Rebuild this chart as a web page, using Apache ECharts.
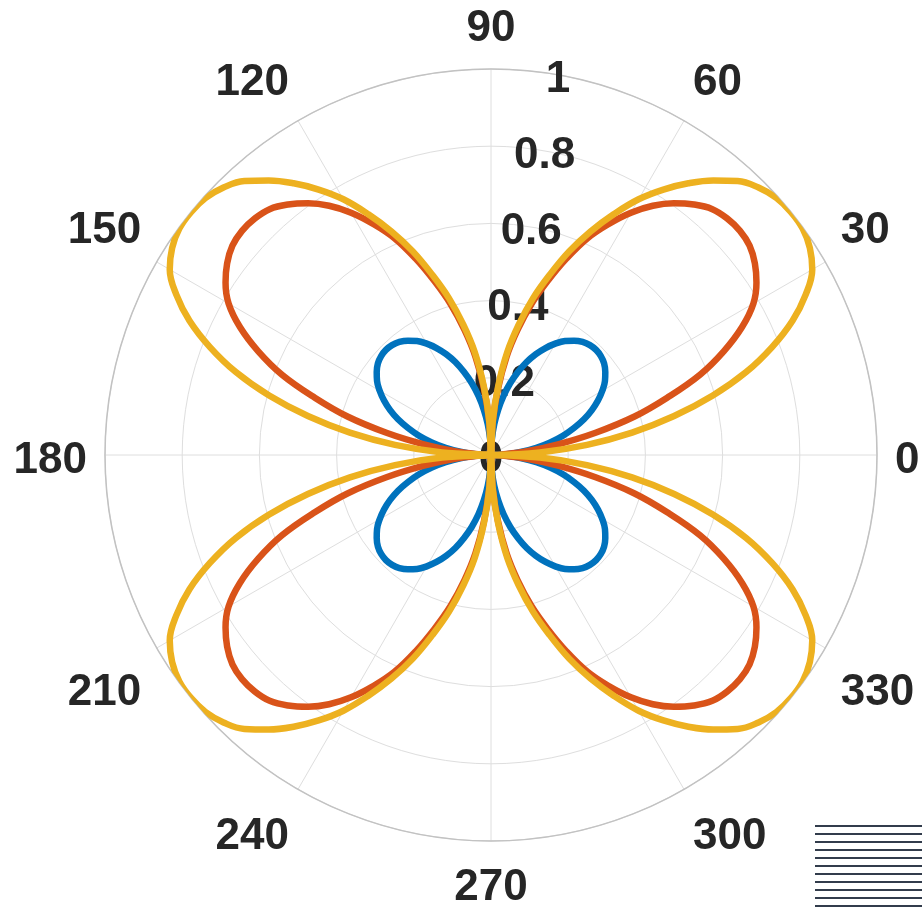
<!DOCTYPE html>
<html>
<head>
<meta charset="utf-8">
<title>Polar lobes</title>
<style>
  html, body { margin: 0; padding: 0; background: #ffffff; }
  #chart { width: 922px; height: 911px; }
</style>
<script src="https://cdn.jsdelivr.net/npm/echarts@6/dist/echarts.min.js"></script>
</head>
<body>
<div id="chart"></div>
<script>
// Sample angles in degrees (3-degree steps round the full circle)
const thetaDeg = [
  0, 3, 6, 9, 12, 15, 18, 21, 24, 27, 30, 33, 36, 39, 42, 45, 48, 51, 54, 57, 60, 63, 66, 69, 72, 75, 78, 81, 84, 87, 90,
  93, 96, 99, 102, 105, 108, 111, 114, 117, 120, 123, 126, 129, 132, 135, 138, 141, 144, 147, 150, 153, 156, 159, 162, 165, 168, 171, 174, 177, 180,
  183, 186, 189, 192, 195, 198, 201, 204, 207, 210, 213, 216, 219, 222, 225, 228, 231, 234, 237, 240, 243, 246, 249, 252, 255, 258, 261, 264, 267, 270,
  273, 276, 279, 282, 285, 288, 291, 294, 297, 300, 303, 306, 309, 312, 315, 318, 321, 324, 327, 330, 333, 336, 339, 342, 345, 348, 351, 354, 357, 360
];

// Radius of each curve at those angles
const rhoBlue = [
  0, 0.04, 0.08, 0.119, 0.157, 0.193, 0.226, 0.258, 0.286, 0.311, 0.333, 0.352, 0.366, 0.377, 0.383, 0.385, 0.383, 0.377, 0.366, 0.352, 0.333, 0.311, 0.286, 0.258, 0.226, 0.193, 0.157, 0.119, 0.08, 0.04, 0,
  0.04, 0.08, 0.119, 0.157, 0.193, 0.226, 0.258, 0.286, 0.311, 0.333, 0.352, 0.366, 0.377, 0.383, 0.385, 0.383, 0.377, 0.366, 0.352, 0.333, 0.311, 0.286, 0.258, 0.226, 0.193, 0.157, 0.119, 0.08, 0.04, 0,
  0.04, 0.08, 0.119, 0.157, 0.193, 0.226, 0.258, 0.286, 0.311, 0.333, 0.352, 0.366, 0.377, 0.383, 0.385, 0.383, 0.377, 0.366, 0.352, 0.333, 0.311, 0.286, 0.258, 0.226, 0.193, 0.157, 0.119, 0.08, 0.04, 0,
  0.04, 0.08, 0.119, 0.157, 0.193, 0.226, 0.258, 0.286, 0.311, 0.333, 0.352, 0.366, 0.377, 0.383, 0.385, 0.383, 0.377, 0.366, 0.352, 0.333, 0.311, 0.286, 0.258, 0.226, 0.193, 0.157, 0.119, 0.08, 0.04, 0
];

const rhoRed = [
  0, 0.03, 0.094, 0.176, 0.277, 0.385, 0.48, 0.58, 0.66, 0.73, 0.785, 0.82, 0.845, 0.862, 0.868, 0.866, 0.857, 0.835, 0.806, 0.77, 0.725, 0.672, 0.615, 0.545, 0.473, 0.405, 0.332, 0.258, 0.172, 0.085, 0,
  0.085, 0.172, 0.258, 0.332, 0.405, 0.473, 0.545, 0.615, 0.672, 0.725, 0.77, 0.806, 0.835, 0.857, 0.866, 0.868, 0.862, 0.845, 0.82, 0.785, 0.73, 0.66, 0.58, 0.48, 0.385, 0.277, 0.176, 0.094, 0.03, 0,
  0.03, 0.094, 0.176, 0.277, 0.385, 0.48, 0.58, 0.66, 0.73, 0.785, 0.82, 0.845, 0.862, 0.868, 0.866, 0.857, 0.835, 0.806, 0.77, 0.725, 0.672, 0.615, 0.545, 0.473, 0.405, 0.332, 0.258, 0.172, 0.085, 0,
  0.085, 0.172, 0.258, 0.332, 0.405, 0.473, 0.545, 0.615, 0.672, 0.725, 0.77, 0.806, 0.835, 0.857, 0.866, 0.868, 0.862, 0.845, 0.82, 0.785, 0.73, 0.66, 0.58, 0.48, 0.385, 0.277, 0.176, 0.094, 0.03, 0
];

const rhoYellow = [
  0, 0.127, 0.25, 0.37, 0.485, 0.595, 0.695, 0.78, 0.855, 0.915, 0.961, 0.985, 0.998, 1.0, 0.995, 0.98, 0.955, 0.915, 0.87, 0.82, 0.765, 0.70, 0.634, 0.565, 0.49, 0.42, 0.345, 0.27, 0.18, 0.09, 0,
  0.09, 0.18, 0.27, 0.345, 0.42, 0.49, 0.565, 0.634, 0.70, 0.765, 0.82, 0.87, 0.915, 0.955, 0.98, 0.995, 1.0, 0.998, 0.985, 0.961, 0.915, 0.855, 0.78, 0.695, 0.595, 0.485, 0.37, 0.25, 0.127, 0,
  0.127, 0.25, 0.37, 0.485, 0.595, 0.695, 0.78, 0.855, 0.915, 0.961, 0.985, 0.998, 1.0, 0.995, 0.98, 0.955, 0.915, 0.87, 0.82, 0.765, 0.70, 0.634, 0.565, 0.49, 0.42, 0.345, 0.27, 0.18, 0.09, 0,
  0.09, 0.18, 0.27, 0.345, 0.42, 0.49, 0.565, 0.634, 0.70, 0.765, 0.82, 0.87, 0.915, 0.955, 0.98, 0.995, 1.0, 0.998, 0.985, 0.961, 0.915, 0.855, 0.78, 0.695, 0.595, 0.485, 0.37, 0.25, 0.127, 0
];

// Axis ticks
const angleTicks = [0, 30, 60, 90, 120, 150, 180, 210, 240, 270, 300, 330];
const radiusTicks = [0, 0.2, 0.4, 0.6, 0.8, 1];

const seriesColors = ['#0072BD', '#D95319', '#EDB120'];
const textColor = '#262626';
const labelFont = { fontFamily: '"Liberation Sans", Arial, sans-serif', fontSize: 44, fontWeight: 'bold', color: textColor };

const centre = [491, 455];
const outerRadius = 386;

// Angle labels on the lower half sit a little further out from the rim
const angleLabelStyle = { 0: 'mid', 180: 'mid', 210: 'd14', 330: 'd14', 240: 'd10', 300: 'd10', 270: 'd7' };
function richStyle(padTop) {
  return Object.assign({ padding: [padTop, 0, 0, 0] }, labelFont);
}

function pairs(rho) {
  return rho.map((r, i) => [r, thetaDeg[i]]);
}

function curve(name, rho, color) {
  return {
    name: name,
    type: 'line',
    coordinateSystem: 'polar',
    polarIndex: 0,
    data: pairs(rho),
    showSymbol: false,
    smooth: 0.4,
    clip: false,
    lineStyle: { color: color, width: 6.5, cap: 'round', join: 'round' },
    emphasis: { disabled: true },
    z: 3
  };
}

// Thin horizontal stripes in the lower right corner
const stripeLines = [];
for (let k = 0; k < 11; k++) {
  stripeLines.push({
    type: 'rect',
    shape: { x: 0, y: k * 8, width: 107, height: 2 },
    style: { fill: '#323c4c' }
  });
}

const chart = echarts.init(document.getElementById('chart'), null, { renderer: 'canvas' });
chart.setOption({
  animation: false,
  backgroundColor: '#ffffff',
  polar: [
    { center: centre, radius: outerRadius },
    { center: centre, radius: outerRadius }
  ],
  angleAxis: [
    {
      polarIndex: 0,
      type: 'value',
      min: 0,
      max: 360,
      interval: 30,
      startAngle: 0,
      clockwise: false,
      axisLine: { show: true, lineStyle: { color: '#c2c2c2', width: 1.5 } },
      axisTick: { show: false },
      splitLine: { show: true, lineStyle: { color: '#dedede', width: 1 } },
      axisLabel: Object.assign({
        margin: 18,
        formatter: function (v) {
          if (angleTicks.indexOf(v) < 0) return '';
          const s = angleLabelStyle[v];
          return s ? '{' + s + '|' + v + '}' : String(v);
        },
        rich: {
          mid: richStyle(12),
          d14: richStyle(14),
          d10: richStyle(10),
          d7: richStyle(7)
        }
      }, labelFont)
    },
    {
      polarIndex: 1,
      type: 'value',
      min: 0,
      max: 360,
      startAngle: 80,
      clockwise: false,
      show: false
    }
  ],
  radiusAxis: [
    {
      polarIndex: 0,
      type: 'value',
      min: 0,
      max: 1,
      interval: 0.2,
      axisLine: { show: false },
      axisTick: { show: false },
      axisLabel: { show: false },
      splitLine: { show: true, lineStyle: { color: '#dedede', width: 1 } }
    },
    {
      polarIndex: 1,
      type: 'value',
      min: 0,
      max: 1,
      interval: 0.2,
      axisLine: { show: false },
      axisTick: { show: false },
      splitLine: { show: false },
      axisLabel: Object.assign({
        margin: 0,
        align: 'center',
        verticalAlign: 'middle',
        showMinLabel: true,
        showMaxLabel: true,
        formatter: function (v) {
          const t = radiusTicks.find(x => Math.abs(x - v) < 1e-9);
          return t === undefined ? '' : '{r|' + t + '}';
        },
        rich: { r: richStyle(10) }
      }, labelFont)
    }
  ],
  series: [
    curve('rho1', rhoBlue, seriesColors[0]),
    curve('rho2', rhoRed, seriesColors[1]),
    curve('rho3', rhoYellow, seriesColors[2])
  ],
  graphic: {
    elements: [
      { type: 'group', right: 0, bottom: 4, children: stripeLines }
    ]
  }
});
</script>
</body>
</html>
